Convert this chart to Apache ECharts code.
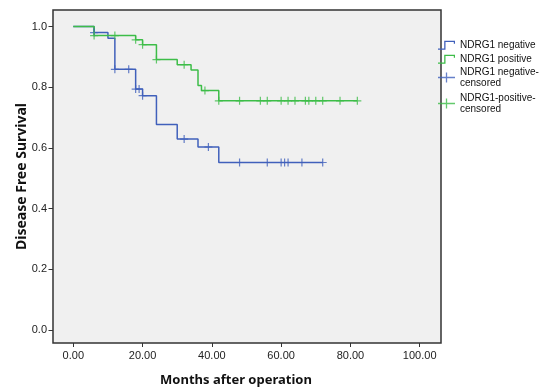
<!DOCTYPE html>
<html lang="en">
<head>
    <meta charset="UTF-8">
    <title>Disease free survival</title>
    <script src="https://cdn.jsdelivr.net/npm/echarts@6/dist/echarts.min.js"></script>
</head>
<body style="margin:0;background:#fff">
<div id="main" style="width: 545px;height:387px;"></div>

<script>
    // Kaplan-Meier steps (months, survival)
    var negTimes = [0, 6, 10, 12, 18, 20, 24, 30, 36, 42, 72];
    var negSurv = [1, 0.980, 0.961, 0.859, 0.794, 0.772, 0.677, 0.629, 0.603, 0.552, 0.552];
    var posTimes = [0, 6, 18, 20, 24, 30, 34, 36, 37, 42, 82];
    var posSurv = [1, 0.970, 0.956, 0.940, 0.891, 0.874, 0.857, 0.806, 0.789, 0.755, 0.755];

    // censored cases
    var negCensorTimes = [6, 12, 16, 18, 19, 20, 32, 39, 48, 56, 60, 61, 62, 66, 72];
    var negCensorSurv = [0.980, 0.859, 0.859, 0.794, 0.794, 0.772, 0.629, 0.603, 0.552, 0.552, 0.552, 0.552, 0.552, 0.552, 0.552];
    var posCensorTimes = [6, 12, 18, 20, 24, 32, 38, 42, 48, 54, 56, 60, 62, 64, 67, 68, 70, 72, 77, 82];
    var posCensorSurv = [0.970, 0.970, 0.956, 0.940, 0.891, 0.874, 0.789, 0.755, 0.755, 0.755, 0.755, 0.755, 0.755, 0.755, 0.755, 0.755, 0.755, 0.755, 0.755, 0.755];

    var xTicks = [0, 20, 40, 60, 80, 100];
    var yTicks = [0, 0.2, 0.4, 0.6, 0.8, 1.0];

    var names = ['NDRG1 negative', 'NDRG1 positive', 'NDRG1 negative-censored', 'NDRG1-positive-censored'];
    var blue = '#4060bb';
    var green = '#3dbd48';

    function pairs(xs, ys) {
        var out = [];
        for (var i = 0; i < xs.length; i++) {
            out.push([xs[i], ys[i]]);
        }
        return out;
    }

    var font = 'Liberation Sans, Arial, sans-serif';
    var stepIcon = 'path://M0,8.6 H6.2 V1 H17 V4 H15.8 V2.3 H7.5 V9.9 H0 Z';
    var plusIcon = 'path://M0,4.35 H7.85 V0 H9.15 V4.35 H17 V5.65 H9.15 V10 H7.85 V5.65 H0 Z';
    var plusSymbol = 'path://M6.8,0 H9.2 V6.8 H16 V9.2 H9.2 V16 H6.8 V9.2 H0 V6.8 H6.8 Z';

    function legendAt(name, top, icon) {
        return {
            data: [name],
            left: 438,
            top: top,
            padding: 0,
            orient: 'vertical',
            itemWidth: 17,
            itemHeight: 10,
            icon: icon,
            selectedMode: false,
            formatter: function (n) {
                return n.replace('-censored', '-\ncensored');
            },
            textStyle: {fontFamily: font, fontSize: 10, lineHeight: 10.5, color: '#111'}
        };
    }

    var chart = echarts.init(document.getElementById('main'));
    var option = {
        animation: false,
        grid: {
            left: 53, top: 10, width: 388, height: 333, show: true,
            outerBoundsMode: 'none', containLabel: false,
            backgroundColor: '#f0f0f0', borderColor: '#333', borderWidth: 1.5
        },
        legend: [
            legendAt(names[0], 40, stepIcon),
            legendAt(names[1], 54, stepIcon),
            legendAt(names[2], 67, plusIcon),
            legendAt(names[3], 93, plusIcon)
        ],
        xAxis: {
            type: 'value', min: -5.86, max: 106.15,
            axisLine: {show: false, onZero: false},
            axisTick: {show: true, length: 4, customValues: xTicks, lineStyle: {color: '#333'}},
            splitLine: {show: false},
            axisLabel: {
                customValues: xTicks,
                margin: 7, fontFamily: font, fontSize: 11, color: '#222',
                formatter: function (v) { return v.toFixed(2); }
            },
            name: 'Months after operation',
            nameLocation: 'middle',
            nameGap: 31,
            nameMoveOverlap: false,
            nameTextStyle: {fontFamily: 'Noto Sans, sans-serif', fontWeight: 'bold', fontSize: 13, color: '#111', padding: [0, 22, 0, 0]}
        },
        yAxis: {
            type: 'value', min: -0.0428, max: 1.0544,
            axisLine: {show: false, onZero: false},
            axisTick: {show: true, length: 4.5, customValues: yTicks, lineStyle: {color: '#333'}},
            splitLine: {show: false},
            axisLabel: {
                customValues: yTicks,
                margin: 6, fontFamily: font, fontSize: 11, color: '#222',
                formatter: function (v) { return v.toFixed(1); }
            },
            name: 'Disease Free Survival',
            nameLocation: 'middle',
            nameGap: 24,
            nameMoveOverlap: false,
            nameTextStyle: {fontFamily: 'Noto Sans, sans-serif', fontWeight: 'bold', fontSize: 14, color: '#111'}
        },
        series: [
            {
                name: names[0], type: 'line', step: 'end',
                showSymbol: false, color: blue, lineStyle: {width: 1.5, color: blue},
                data: pairs(negTimes, negSurv), z: 2
            },
            {
                name: names[1], type: 'line', step: 'end',
                showSymbol: false, color: green, lineStyle: {width: 1.5, color: green},
                data: pairs(posTimes, posSurv), z: 3
            },
            {
                name: names[2], type: 'scatter',
                symbol: plusSymbol, symbolSize: 8, color: blue,
                data: pairs(negCensorTimes, negCensorSurv), z: 4
            },
            {
                name: names[3], type: 'scatter',
                symbol: plusSymbol, symbolSize: 8, color: green,
                data: pairs(posCensorTimes, posCensorSurv), z: 5
            }
        ]
    };
    chart.setOption(option);
</script>
</body>
</html>
